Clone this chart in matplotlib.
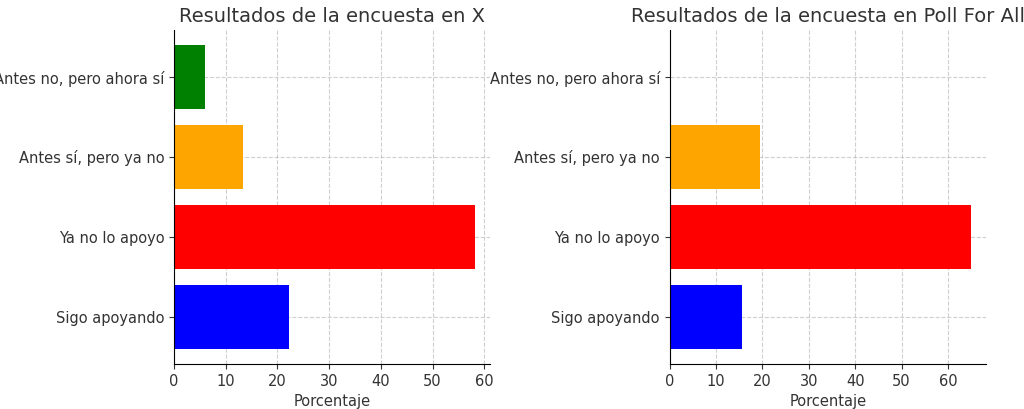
import matplotlib
matplotlib.use("Agg")
import matplotlib.pyplot as plt

categorias = ["Sigo apoyando", "Ya no lo apoyo", "Antes sí, pero ya no", "Antes no, pero ahora sí"]
colores = ["blue", "red", "orange", "green"]
valores_x = [22.3, 58.3, 13.4, 6.0]
valores_poll = [15.5, 65.0, 19.4, 0.0]
titulos = ["Resultados de la encuesta en X", "Resultados de la encuesta en Poll For All"]

fig = plt.figure(figsize=(10.24, 4.09), dpi=100)
ax1 = fig.add_axes([0.170, 0.110, 0.309, 0.817])
ax2 = fig.add_axes([0.654, 0.110, 0.309, 0.817])
for ax, vals, titulo in zip([ax1, ax2], [valores_x, valores_poll], titulos):
    ax.barh(categorias, vals, color=colores)
    ax.set_title(titulo, fontsize=14, color="#333333")
    ax.set_xlabel("Porcentaje", fontsize=10.5, color="#333333")
    ax.grid(True, linestyle="--", alpha=0.6)
    ax.set_axisbelow(True)
    ax.spines["top"].set_visible(False)
    ax.spines["right"].set_visible(False)
    ax.tick_params(labelsize=10.5, colors="#333333")

plt.savefig("out.png")
